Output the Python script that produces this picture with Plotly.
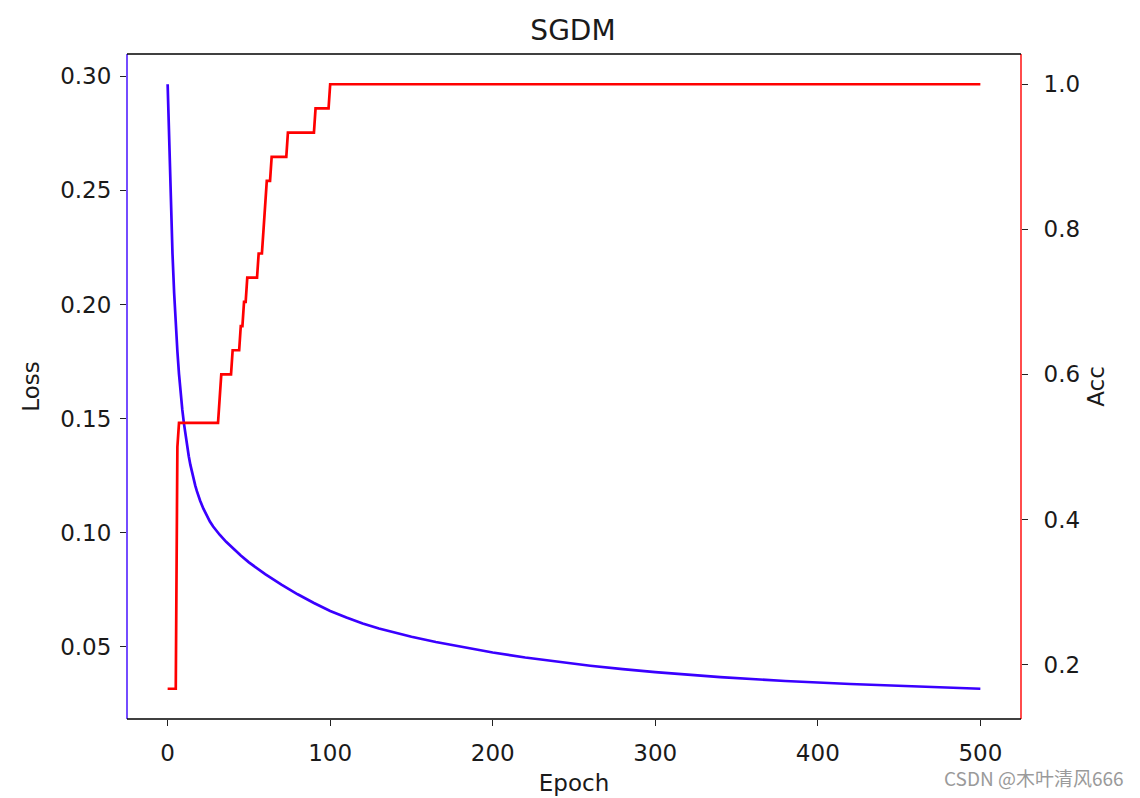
import numpy as np
import plotly.graph_objects as go

# ---- data ----
loss_epochs = [0, 1, 2, 3, 4, 5, 6, 7, 8, 9, 10, 11, 12, 13, 14, 15, 16, 17, 18, 19,
               20, 22, 24, 26, 28, 30, 32, 36, 40, 45, 50, 55, 60, 70, 80, 90,
               100, 110, 120, 130, 140, 150, 165, 180, 200, 220, 240, 260, 280, 300,
               340, 380, 420, 460, 500]
loss_values = [0.2965, 0.2680, 0.2430, 0.2220, 0.2050, 0.1910, 0.1795, 0.1695, 0.1610, 0.1540,
               0.1480, 0.1425, 0.1377, 0.1335, 0.1297, 0.1263, 0.1233, 0.1206, 0.1182, 0.1160,
               0.1140, 0.1105, 0.1074, 0.1049, 0.1027, 0.1008, 0.0991, 0.0960, 0.0932, 0.0900,
               0.0870, 0.0843, 0.0818, 0.0772, 0.0730, 0.0692,
               0.0657, 0.0628, 0.0602, 0.0580, 0.0561, 0.0544, 0.0521, 0.0500, 0.0475, 0.0453,
               0.0434, 0.0417, 0.0402, 0.0389, 0.0367, 0.0350, 0.0337, 0.0326, 0.0316]

acc_change_epochs = [0, 6, 7, 32, 33, 40, 45, 47, 49, 56, 59, 60, 61, 64, 74, 91, 100]
acc_change_values = [0.1667, 0.5, 0.5333, 0.5667, 0.6, 0.6333, 0.6667, 0.7, 0.7333,
                     0.7667, 0.8, 0.8333, 0.8667, 0.9, 0.9333, 0.9667, 1.0]
last_epoch = 500

epoch_ticks = [0, 100, 200, 300, 400, 500]
loss_ticks = [0.05, 0.10, 0.15, 0.20, 0.25, 0.30]
acc_ticks = [0.2, 0.4, 0.6, 0.8, 1.0]

title_text = "SGDM"
x_label = "Epoch"
y_label = "Loss"
y2_label = "Acc"
watermark = "CSDN @木叶清风666"

# ---- build per-epoch accuracy (value held between changes) ----
acc_epochs = np.arange(0, last_epoch + 1)
idx = np.searchsorted(acc_change_epochs, acc_epochs, side="right") - 1
acc_values = np.array(acc_change_values)[idx]

def padded(lo, hi, frac=0.05):
    span = hi - lo
    return [lo - span * frac, hi + span * frac]

BLUE = "#3a00ff"
RED = "#ff0000"
BLACK = "#000000"
FONT = "DejaVu Sans"
TXT = "#1a1a1a"

fig = go.Figure()
fig.add_trace(go.Scatter(
    x=loss_epochs, y=loss_values, mode="lines",
    line=dict(color=BLUE, width=2.7),
    name="Loss", yaxis="y"))
fig.add_trace(go.Scatter(
    x=acc_epochs, y=acc_values, mode="lines",
    line=dict(color=RED, width=2.7),
    name="Acc", yaxis="y2"))

tickfont = dict(family=FONT, size=23, color=TXT)
common = dict(showgrid=False, zeroline=False, showline=False,
              ticks="outside", ticklen=6, tickwidth=1.4, tickcolor="#222222",
              tickfont=tickfont)
fig.update_layout(
    width=1140, height=798,
    margin=dict(l=127, r=119, t=54, b=79, autoexpand=False),
    paper_bgcolor="white", plot_bgcolor="white",
    showlegend=False,
    font=dict(family=FONT, color=TXT),
    title=dict(text=title_text, x=0.5026, xanchor="center", y=0.962, yanchor="middle",
               font=dict(family=FONT, size=28, color=TXT)),
    xaxis=dict(range=padded(0, last_epoch), tickvals=epoch_ticks,
               ticklabelstandoff=7,
               title=dict(text=x_label, font=dict(family=FONT, size=23, color=TXT), standoff=10),
               **common),
    yaxis=dict(range=padded(min(loss_values), max(loss_values)), tickvals=loss_ticks,
               tickformat=".2f", ticklabelstandoff=4,
               title=dict(text=y_label, font=dict(family=FONT, size=23, color=TXT), standoff=14),
               **common),
    yaxis2=dict(range=padded(min(acc_values), max(acc_values)), tickvals=acc_ticks,
                tickformat=".1f", overlaying="y", side="right", anchor="x",
                ticklabelstandoff=11,
                title=dict(text=y2_label, font=dict(family=FONT, size=23, color=TXT), standoff=8),
                **common),
)

# frame (spines): left blue, right red, top and bottom black
spines = [
    (0, 0, 0, 1, BLUE),
    (1, 0, 1, 1, RED),
    (0, 1, 1, 1, BLACK),
    (0, 0, 1, 0, BLACK),
]
for x0, y0, x1, y1, c in spines:
    fig.add_shape(type="line", xref="paper", yref="paper",
                  x0=x0, y0=y0, x1=x1, y1=y1,
                  line=dict(color=c, width=1.4), layer="above")

fig.add_annotation(text=watermark, xref="paper", yref="paper",
                   x=1.1175, y=-0.0887, xanchor="right", yanchor="middle",
                   showarrow=False,
                   font=dict(family="Noto Sans CJK SC", size=19, color="#9a9a9a"))

fig.write_html("out.html")
